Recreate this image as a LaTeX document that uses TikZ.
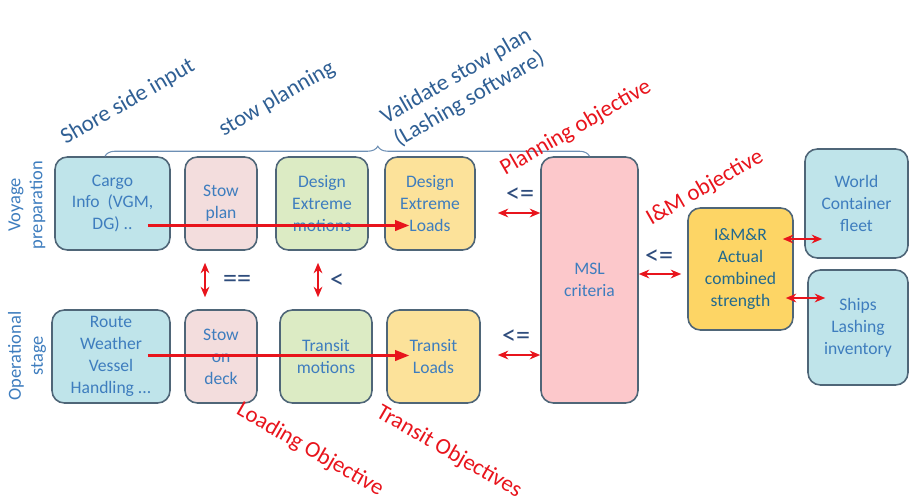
\documentclass[tikz,border=0pt]{standalone}
\usepackage{fontspec}
\setmainfont{Carlito}
\usepackage{xcolor}
\usetikzlibrary{arrows.meta, calc, decorations.pathreplacing}

\definecolor{boxline}{HTML}{4F6678}
\definecolor{boxtext}{HTML}{3E7DBE}
\definecolor{headtext}{HTML}{2F5F94}
\definecolor{cmptext}{HTML}{2E4C7C}
\definecolor{objred}{HTML}{E8141C}
\definecolor{cyanfill}{HTML}{BFE4EA}
\definecolor{pinkfill}{HTML}{F3DDDD}
\definecolor{greenfill}{HTML}{DCEBC4}
\definecolor{loadfill}{HTML}{FCE29A}
\definecolor{mslfill}{HTML}{FCC8CB}
\definecolor{imrfill}{HTML}{FDD565}

\begin{document}
\begin{tikzpicture}[
  x=0.02cm, y=-0.02cm,
  box/.style     = {draw=boxline, line width=0.9pt, rounded corners=7pt,
                    minimum height=1.86cm, align=center, text=boxtext,
                    font=\fontsize{10}{12.5}\selectfont, inner sep=1pt},
  flow/.style    = {-{Triangle[length=8pt, width=6pt]}, objred, line width=1.2pt},
  dbl/.style     = {{Stealth[length=6pt, width=5pt]}-{Stealth[length=6pt, width=5pt]},
                    objred, line width=0.9pt},
  head/.style    = {font=\fontsize{13}{15}\selectfont, text=headtext, rotate=30, align=left},
  objective/.style = {font=\fontsize{13}{15}\selectfont, text=objred},
  stage/.style   = {font=\fontsize{10.5}{12.5}\selectfont, text=boxtext, rotate=90, align=center},
  cmp/.style     = {font=\fontsize{16}{18}\selectfont, text=cmptext}
]
\useasboundingbox (0,0) rectangle (909,501);

% ── Voyage preparation row ───────────────────────────────────────────────────
\node[box, fill=cyanfill,  minimum width=2.3cm]  (cargo) at (112.5,203.5) {Cargo\\Info\ \ (VGM,\\DG) ..};
\node[box, fill=pinkfill,  minimum width=1.44cm] (stowp) at (221,203.5)   {Stow\\plan};
\node[box, fill=greenfill, minimum width=1.84cm] (dmot)  at (322,203.5)   {Design\\Extreme\\motions};
\node[box, fill=loadfill,  minimum width=1.8cm]  (dload) at (430,203.5)   {Design\\Extreme\\Loads};

% ── Operational stage row ────────────────────────────────────────────────────
\node[box, fill=cyanfill,  minimum width=2.36cm] (route) at (111,356.5)   {Route\\Weather\\Vessel\\Handling ...};
\node[box, fill=pinkfill,  minimum width=1.44cm] (stowd) at (221,356.5)   {Stow\\on\\deck};
\node[box, fill=greenfill, minimum width=1.84cm] (tmot)  at (326,356.5)   {Transit\\motions};
\node[box, fill=loadfill,  minimum width=1.86cm] (tload) at (433.5,356.5) {Transit\\Loads};

% ── Criteria and strength ────────────────────────────────────────────────────
\node[box, fill=mslfill, minimum width=1.94cm, minimum height=4.92cm] (msl) at (589.5,280) {MSL\\criteria};
\node[box, fill=imrfill, minimum width=2.1cm, minimum height=2.44cm, text=headtext!70!teal]
  (imr) at (740.5,269) {I\&M\&R\\Actual\\combined\\strength};
\node[box, fill=cyanfill, minimum width=2.06cm, minimum height=2.18cm] (world) at (856.5,203.5) {World\\Container\\fleet};
\node[box, fill=cyanfill, minimum width=2cm, minimum height=2.3cm]    (ships) at (858,327.5)   {Ships\\Lashing\\inventory};

% ── Stage labels ─────────────────────────────────────────────────────────────
\node[stage] (voyage) at (27,205) {Voyage\\preparation};
\node[stage] (opstage) at (27,356) {Operational\\stage};

% ── Headings and bracket ─────────────────────────────────────────────────────
\node[head] (shore) at (128,102) {Shore side input};
\node[head] (stowpl) at (277,99) {stow planning};
\node[head] (valid) at (463,88) {Validate stow plan\\(Lashing software)};
\draw[draw=headtext!70, line width=0.6pt,
      decorate, decoration={brace, amplitude=0.2cm, aspect=0.563}]
  ([xshift=-0.15cm]cargo.north) -- (msl.north);

% ── Objectives ───────────────────────────────────────────────────────────────
\node[objective, rotate=30]  (planobj)  at (576,128) {Planning objective};
\node[objective, rotate=30]  (imobj)    at (705,188) {I\&M objective};
\node[objective, rotate=-30] (loadobj)  at (310,450) {Loading Objective};
\node[objective, rotate=-30] (transobj) at (449,452) {Transit Objectives};

% ── Flow arrows ──────────────────────────────────────────────────────────────
\draw[flow] ($(cargo.east)+(-23,22)$) -- ($(dload.west)+(25,22)$);
\draw[flow] ($(route.east)+(-23,-1)$) -- ($(tload.west)+(23,-1)$);

% ── Comparisons ──────────────────────────────────────────────────────────────
\draw[dbl, shorten <=0.24cm, shorten >=0.24cm] ([xshift=-0.32cm]stowp.south) -- ([xshift=-0.32cm]stowd.north);
\draw[dbl, shorten <=0.24cm, shorten >=0.24cm] ([xshift=-0.08cm]dmot.south) -- ([xshift=-0.16cm]tmot.north);
\node[cmp] (eqeq) at (237,281) {==};
\node[cmp] (lt)   at (337,281) {<};

\draw[dbl, shorten <=0.44cm] ([yshift=-0.19cm]dload.east) -- ([yshift=-0.19cm]dload.east -| msl.west);
\draw[dbl, shorten <=0.34cm] ([yshift=0.03cm]tload.east) -- ([yshift=0.03cm]tload.east -| msl.west);
\draw[dbl, shorten >=0.12cm] ([yshift=0.12cm]msl.east) -- ([yshift=0.12cm]msl.east -| imr.west);
\node[cmp] (le1) at (520,195) {<=};
\node[cmp] (le2) at (516,337) {<=};
\node[cmp] (le3) at (659,257) {<=};

\draw[dbl, shorten <=-0.22cm, shorten >=-0.36cm] ([yshift=0.6cm]imr.east) -- ([yshift=0.6cm]imr.east -| world.west);
\draw[dbl, shorten <=-0.16cm, shorten >=-0.36cm] ([yshift=-0.58cm]imr.east) -- ([yshift=-0.58cm]imr.east -| ships.west);

\end{tikzpicture}
\end{document}
